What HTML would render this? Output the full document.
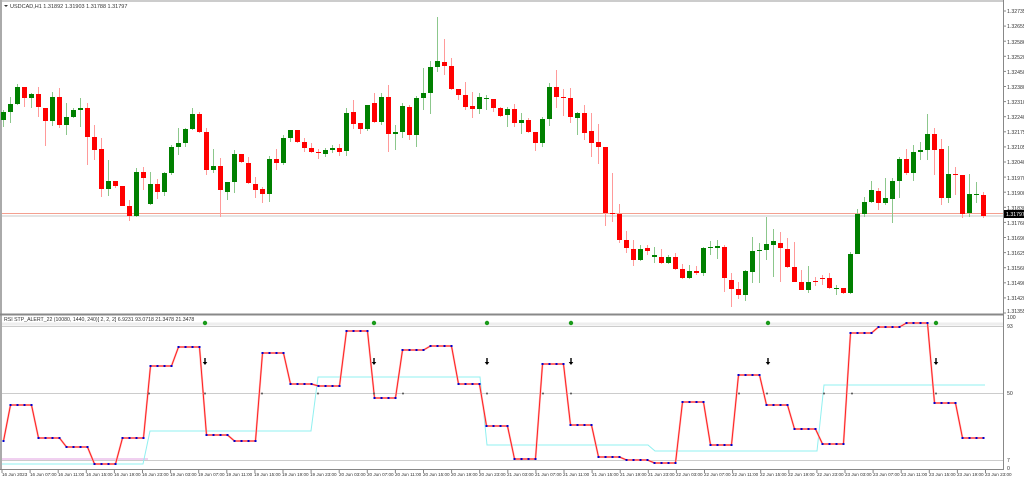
<!DOCTYPE html>
<html><head><meta charset="utf-8"><style>
html,body{margin:0;padding:0;background:#fff;width:1024px;height:479px;overflow:hidden}
svg{display:block}
text{font-family:"Liberation Sans",sans-serif;fill:#333}
</style></head><body>
<svg id="s" width="1024" height="479" viewBox="0 0 1024 479" xmlns="http://www.w3.org/2000/svg">
<rect x="0" y="0" width="1024" height="479" fill="#fff"/>
<line x1="0" y1="1" x2="1004" y2="1" stroke="#999" stroke-width="1"/>
<line x1="1" y1="0" x2="1" y2="470" stroke="#aaa" stroke-width="2"/>
<line x1="1003.5" y1="0" x2="1003.5" y2="470" stroke="#888" stroke-width="1"/>
<line x1="0" y1="314.5" x2="1004" y2="314.5" stroke="#888" stroke-width="2"/>
<line x1="0" y1="469.5" x2="1004" y2="469.5" stroke="#888" stroke-width="1"/>
<line x1="2" y1="213.5" x2="1003" y2="213.5" stroke="#f4a090" stroke-width="1"/>
<line x1="2" y1="216" x2="1003" y2="216" stroke="#e4e4e4" stroke-width="2"/>
<line x1="2" y1="326.5" x2="1003" y2="326.5" stroke="#ccc"/>
<line x1="2" y1="324" x2="1003" y2="324" stroke="#eee" stroke-width="3"/>
<line x1="2" y1="393.5" x2="1003" y2="393.5" stroke="#ccc"/>
<line x1="2" y1="460.5" x2="1003" y2="460.5" stroke="#ccc"/>
<g id="candles"></g>
<g id="ind"></g>
<text x="10" y="8" font-size="5.5">USDCAD,H1  1.31892 1.31903 1.31788 1.31797</text>
<polygon points="4,5 8,5 6,7" fill="#333"/>
<text x="4" y="321" font-size="5.2">RSI STP_ALERT_22 (10080, 1440, 240)[ 2, 2, 2]   6.9231 93.0718 21.3478 21.3478</text>
<g font-size="5.2">
<text x="1007" y="13">1.32735</text><text x="1007" y="28">1.32655</text><text x="1007" y="44">1.32586</text>
<text x="1007" y="59">1.32520</text><text x="1007" y="74">1.32450</text><text x="1007" y="89">1.32380</text>
<text x="1007" y="104">1.32310</text><text x="1007" y="119">1.32240</text><text x="1007" y="134">1.32175</text>
<text x="1007" y="149">1.32105</text><text x="1007" y="164">1.32040</text><text x="1007" y="180">1.31970</text>
<text x="1007" y="195">1.31900</text><text x="1007" y="210">1.31830</text><text x="1007" y="225">1.31760</text>
<text x="1007" y="240">1.31690</text><text x="1007" y="255">1.31625</text><text x="1007" y="270">1.31560</text>
<text x="1007" y="285">1.31490</text><text x="1007" y="300">1.31420</text><text x="1007" y="313">1.31355</text>
<text x="1007" y="319">100</text><text x="1007" y="328">93</text><text x="1007" y="395">50</text>
<text x="1007" y="462">7</text><text x="1007" y="470">0</text>
</g>
<rect x="1004" y="210" width="20" height="8" fill="#000"/>
<text x="1006" y="216" font-size="5.2" style="fill:#fff">1.31797</text>
<g id="ticks" stroke="#888"></g>
<g font-size="4.6" id="tl">
<text x="2" y="476">16 Jun 2023</text><text x="30" y="476">16 Jun 07:00</text><text x="58" y="476">16 Jun 11:00</text><text x="86" y="476">16 Jun 15:00</text><text x="114" y="476">16 Jun 19:00</text><text x="142" y="476">16 Jun 23:00</text>
<text x="170" y="476">19 Jun 03:00</text><text x="198" y="476">19 Jun 07:00</text><text x="226" y="476">19 Jun 11:00</text><text x="254" y="476">19 Jun 15:00</text><text x="282" y="476">19 Jun 19:00</text><text x="310" y="476">19 Jun 23:00</text>
<text x="339" y="476">20 Jun 03:00</text><text x="367" y="476">20 Jun 07:00</text><text x="395" y="476">20 Jun 11:00</text><text x="423" y="476">20 Jun 15:00</text><text x="451" y="476">20 Jun 19:00</text><text x="479" y="476">20 Jun 23:00</text>
<text x="507" y="476">21 Jun 03:00</text><text x="535" y="476">21 Jun 07:00</text><text x="563" y="476">21 Jun 11:00</text><text x="592" y="476">21 Jun 15:00</text><text x="620" y="476">21 Jun 19:00</text><text x="648" y="476">21 Jun 23:00</text>
<text x="676" y="476">22 Jun 03:00</text><text x="704" y="476">22 Jun 07:00</text><text x="732" y="476">22 Jun 11:00</text><text x="760" y="476">22 Jun 15:00</text><text x="788" y="476">22 Jun 19:00</text><text x="817" y="476">22 Jun 23:00</text>
<text x="845" y="476">23 Jun 03:00</text><text x="873" y="476">23 Jun 07:00</text><text x="901" y="476">23 Jun 11:00</text><text x="929" y="476">23 Jun 15:00</text><text x="957" y="476">23 Jun 19:00</text><text x="985" y="476">23 Jun 23:00</text>
</g>
</svg>
<script>
var NS="http://www.w3.org/2000/svg";
function el(t,a,p){var e=document.createElementNS(NS,t);for(var k in a)e.setAttribute(k,a[k]);p.appendChild(e);return e;}
var C=[
"g112,120,110,127","g104,112,97,123","g87,104,84,105","r87,98,87,107","g94,98,93,108","r94,107,87,117","r108,121,108,146","g97,121,92,126","r97,125,88,128","g117,125,103,135","g110,117,108,118","g108,110,98,127","r108,137,103,165","r137,150,125,160","r149,189,138,197","g181,189,160,196","r181,186,181,188","r186,206,186,206","r206,216,200,221","g172,216,168,217","r172,178,167,190","g184,204,172,205","r184,192,179,199","g173,192,172,196","g147,173,145,175","g143,147,128,155","g129,143,128,147","g114,129,108,130","r114,132,112,133","r132,170,128,175","g166,170,149,173","r166,190,158,217","g182,192,182,200","g154,182,150,193","r154,162,154,163","r163,183,157,184","r184,190,177,198","r189,194,187,203","g159,194,156,202","r159,163,149,170","g138,163,135,165","g130,138,130,142","r130,142,130,143","r142,148,138,152","r148,152,143,153","r152,153,149,159","g150,154,148,157","g148,150,145,153","r148,152,144,156",
"g113,151,108,156","r112,124,100,129","r123,129,123,134","g105,129,105,131","r103,122,93,123","g97,122,93,125","r97,134,85,152","g132,134,125,150","g106,132,103,138","r107,135,105,140","g98,135,96,147","g93,98,68,110","g67,93,61,114","g61,67,17,72","r62,66,39,75","r66,89,58,90","r89,95,89,100","r95,107,82,110","r106,109,92,118","g97,109,93,114","g98,99,95,110","r99,108,99,112","r108,116,107,117","g109,115,107,127","r109,123,104,127","g120,123,113,134","r120,132,118,133","r132,143,132,151","g119,143,117,147","g87,119,83,126","r87,97,70,108","r97,98,89,116","r98,117,88,123","g113,118,112,135","r113,133,105,140","r131,143,113,157","r142,147,124,164","r147,213,147,226","r213,214,173,222","r214,240,204,243","r240,248,231,253","r249,260,240,266","g249,260,245,261","r248,251,245,255","g255,257,247,263","r257,263,249,264","g257,263,255,264",
"r257,269,253,270","r269,278,264,279","g271,278,265,279","r271,273,266,275","g248,273,247,276","g247,248,241,255","g246,248,240,259","r247,278,245,292","r280,289,273,307","r289,295,282,299","g271,295,270,301","g251,272,237,283","g250,251,243,283","g244,250,217,260","g241,245,229,277","r243,248,232,282","r249,267,238,268","r267,282,242,282","r282,290,270,290","g282,290,266,293","r281,282,277,286","r278,279,275,285","r278,288,273,289","g288,289,285,295","r288,293,288,294","g254,293,252,294","g214,254,209,254","g202,214,197,217","g190,202,181,203","r191,203,188,210","g198,203,178,205","g181,199,178,223","g159,181,157,198","r159,173,149,175","g152,173,145,181","g150,152,142,160","g134,150,114,160","r134,150,128,175","r149,198,139,205","g174,198,146,203","r174,175,167,195","r175,214,175,218","g194,213,174,217","g194,195,182,203","r195,216,192,218"];
var cg=document.getElementById("candles");
C.forEach(function(s,i){var g=s[0]=="g";var v=s.slice(1).split(",").map(Number);var x=3+7*i;var col=g?"#008000":"#ff0000";
el("line",{x1:x+0.5,y1:v[2],x2:x+0.5,y2:v[3],stroke:g?"#8cc78c":"#ff9a9a","stroke-width":1},cg);
el("rect",{x:x-2,y:v[0],width:5,height:Math.max(1,v[1]-v[0]),fill:col},cg);});
var ig=document.getElementById("ind");
el("polyline",{points:"2,459 148,459",fill:"none",stroke:"#e0a0e0","stroke-width":1},ig);
el("polyline",{points:"2,464 143,464 150,431 311,431 318,377 480,377 487,445 648,445 655,451 817,451 824,385 985,385",fill:"none",stroke:"#90f0f0","stroke-width":1},ig);
var Y=[405,438,447,464,438,366,347,435,441,353,384,386,331,398,350,346,384,426,459,364,425,457,460,463,402,445,375,405,429,444,333,327,323,403,438];
var pts=[[3.5,441]];
Y.forEach(function(y,k){for(var j=0;j<4;j++){pts.push([3.5+7*(1+k*4+j),y]);}});
var P=pts.map(function(p){return p.join(",")}).join(" ");
el("polyline",{points:P,fill:"none",stroke:"#ffb8b8","stroke-width":2},ig);
el("polyline",{points:P,fill:"none",stroke:"#ff2020","stroke-width":1},ig);
pts.forEach(function(p){el("rect",{x:p[0]-1,y:p[1]-1,width:2,height:2,fill:"#0000cc"},ig);});
[149,205,262,318,374,403,487,543,571,739,767,824,852,936].forEach(function(x){el("circle",{cx:x,cy:393.5,r:1,fill:"#555"},ig);});
[205,374,487,571,768,936].forEach(function(x){
el("circle",{cx:x,cy:323,r:2.2,fill:"#1a9a1a"},ig);
el("path",{d:"M"+(x-0.7)+" 358 h1.4 v4 h1.6 l-2.3 3 l-2.3 -3 h1.6z",fill:"#000"},ig);});
var tk=document.getElementById("ticks");
for(var i=0;i<36;i++){var x=2+28.1*i;el("line",{x1:x,y1:470,x2:x,y2:473},tk);}
for(var j=0;j<21;j++){var y=11+15.1*j;el("line",{x1:1003,y1:y,x2:1006,y2:y},tk);}
</script>
</body></html>
